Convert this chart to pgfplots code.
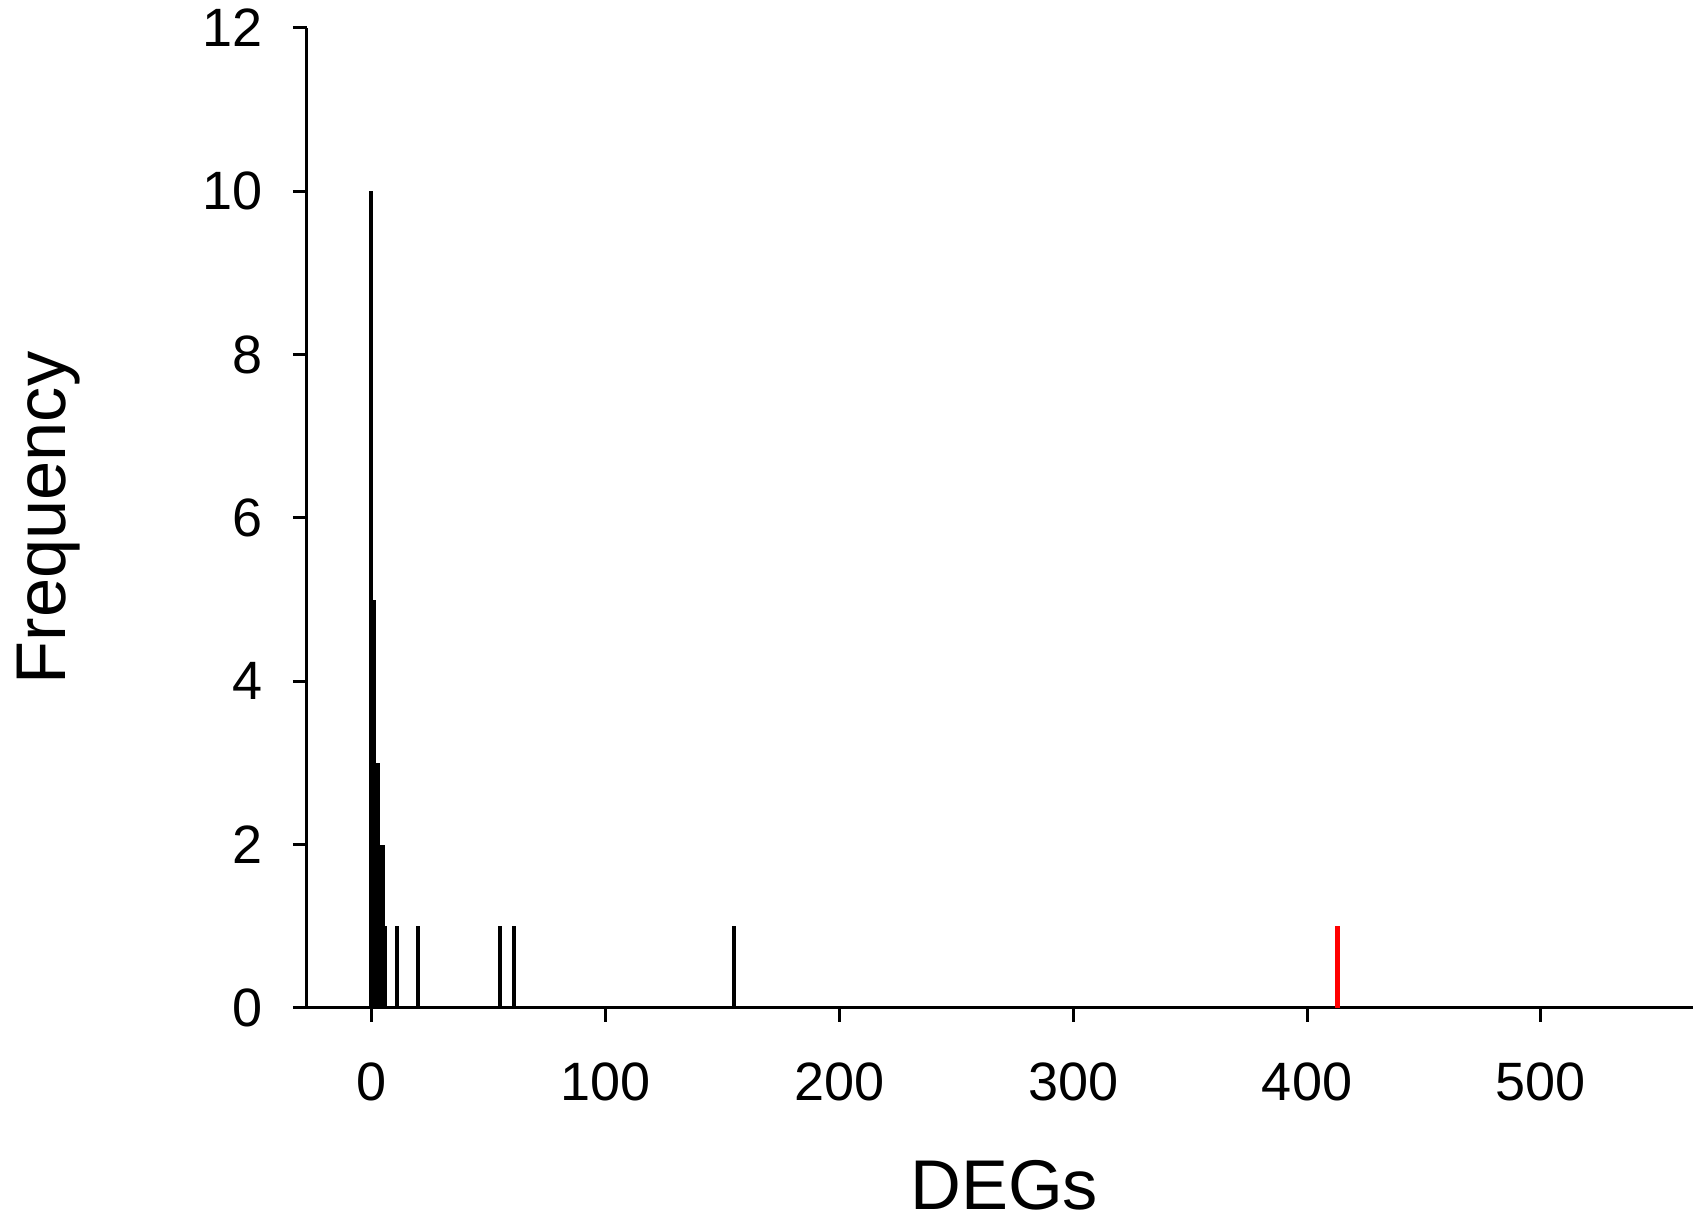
\documentclass[border=0pt]{standalone}
\usepackage{pgfplots}
\pgfplotsset{compat=1.18}
\usepackage{fontspec}
\setmainfont{Liberation Sans}

\begin{document}
\begin{tikzpicture}
\begin{axis}[
  at={(0,0)}, anchor=south west,
  scale only axis,
  width=346.5pt, height=245pt,
  xmin=-27.5, xmax=565,
  ymin=0, ymax=12,
  axis lines=left,
  axis line style={line width=0.75pt, -},
  xtick={0,100,200,300,400,500},
  ytick={0,2,4,6,8,10,12},
  tick align=outside,
  major tick length=3.5pt,
  tick style={line width=0.75pt, black},
  /pgf/number format/assume math mode=true,
  tick label style={font=\fontsize{13.5}{15}\selectfont},
  xticklabel style={yshift=-6.6pt},
  yticklabel style={xshift=-4pt},
  xlabel={DEGs},
  ylabel={Frequency},
  label style={font=\fontsize{17.6}{20}\selectfont},
  xlabel style={at={(axis description cs:0.503,-0.1806)}, anchor=center},
  ylabel style={at={(axis description cs:-0.1864,0.5)}, anchor=center},
  clip=false,
]
% frequency of each DEG count
\addplot[ycomb, black, line width=1pt, mark=none] coordinates {
  (0,10) (1,5) (2,2) (3,3) (4,2) (5,2) (6,1)
  (11,1) (20,1) (55,1) (61,1) (155,1)
};
% observed value
\addplot[ycomb, red, line width=1.45pt, mark=none] coordinates {
  (413,1)
};
\end{axis}
\pgfresetboundingbox
\path (-76.75pt,-52.75pt) rectangle (346.5pt,252pt);
\end{tikzpicture}
\end{document}
